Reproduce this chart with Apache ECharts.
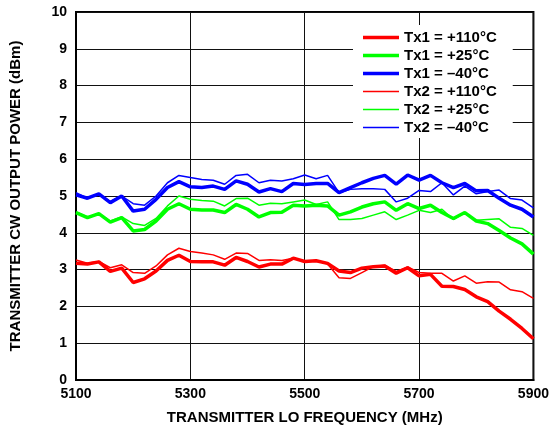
<!DOCTYPE html>
<html>
<head>
<meta charset="UTF-8">
<title>Transmitter CW output power</title>
<script src="https://cdn.jsdelivr.net/npm/echarts@6/dist/echarts.min.js"></script>
</head>
<body style="margin:0;background:#fff;">
<div id="main" style="width:552px;height:431px;"></div>
<script type="text/javascript">
// LO frequency (MHz)
var freqs = [5100, 5120, 5140, 5160, 5180, 5200, 5220, 5240, 5260, 5280,
    5300, 5320, 5340, 5360, 5380, 5400, 5420, 5440, 5460, 5480,
    5500, 5520, 5540, 5560, 5580, 5600, 5620, 5640, 5660, 5680,
    5700, 5720, 5740, 5760, 5780, 5800, 5820, 5840, 5860, 5880, 5900];

// output power (dBm)
var tx1Hot = [3.17, 3.15, 3.21, 2.95, 3.04, 2.65, 2.75, 2.96, 3.25, 3.39,
    3.22, 3.21, 3.21, 3.12, 3.33, 3.22, 3.07, 3.15, 3.15, 3.31,
    3.22, 3.24, 3.17, 2.96, 2.92, 3.04, 3.08, 3.10, 2.90, 3.05,
    2.83, 2.87, 2.55, 2.54, 2.46, 2.26, 2.13, 1.87, 1.65, 1.40, 1.12];
var tx1Room = [4.55, 4.41, 4.52, 4.29, 4.41, 4.05, 4.09, 4.32, 4.64, 4.79,
    4.64, 4.62, 4.62, 4.55, 4.77, 4.64, 4.43, 4.55, 4.56, 4.75,
    4.73, 4.75, 4.73, 4.48, 4.57, 4.70, 4.79, 4.84, 4.61, 4.79,
    4.66, 4.75, 4.55, 4.39, 4.55, 4.32, 4.25, 4.06, 3.86, 3.70, 3.42];
var tx1Cold = [5.03, 4.94, 5.06, 4.82, 5.00, 4.59, 4.64, 4.91, 5.23, 5.39,
    5.25, 5.23, 5.27, 5.18, 5.41, 5.32, 5.11, 5.20, 5.12, 5.34,
    5.31, 5.34, 5.34, 5.09, 5.23, 5.36, 5.48, 5.56, 5.32, 5.57,
    5.43, 5.56, 5.36, 5.23, 5.34, 5.14, 5.15, 4.94, 4.75, 4.64, 4.43];
var tx2Hot = [3.26, 3.17, 3.22, 3.05, 3.13, 2.92, 2.90, 3.10, 3.40, 3.58,
    3.49, 3.45, 3.40, 3.28, 3.45, 3.44, 3.25, 3.27, 3.25, 3.31,
    3.23, 3.25, 3.15, 2.78, 2.76, 2.92, 3.08, 3.12, 2.95, 3.07,
    2.92, 2.90, 2.90, 2.69, 2.83, 2.63, 2.67, 2.66, 2.45, 2.40, 2.22];
var tx2Room = [4.57, 4.43, 4.52, 4.32, 4.43, 4.25, 4.20, 4.39, 4.73, 5.00,
    4.91, 4.88, 4.86, 4.73, 4.93, 4.94, 4.75, 4.80, 4.79, 4.84,
    4.89, 4.77, 4.84, 4.36, 4.36, 4.39, 4.48, 4.57, 4.36, 4.48,
    4.61, 4.55, 4.64, 4.36, 4.55, 4.34, 4.36, 4.38, 4.15, 4.12, 3.93];
var tx2Cold = [5.09, 4.94, 5.06, 4.85, 5.00, 4.79, 4.75, 5.00, 5.36, 5.56,
    5.50, 5.45, 5.43, 5.32, 5.56, 5.59, 5.36, 5.43, 5.41, 5.47,
    5.57, 5.47, 5.56, 5.09, 5.18, 5.20, 5.20, 5.18, 4.84, 4.94,
    5.15, 5.12, 5.36, 5.03, 5.27, 5.06, 5.12, 5.16, 4.93, 4.89, 4.68];

var names = ['Tx1 = +110°C', 'Tx1 = +25°C', 'Tx1 = \u201340°C',
             'Tx2 = +110°C', 'Tx2 = +25°C', 'Tx2 = \u201340°C'];

// legend swatches: flat bars, thick for Tx1 and thin for Tx2
var thickIcon = 'path://M0,0H36V3.5H0Z';
var thinIcon = 'path://M0,0H36V1.5H0Z';

function pairs(ys) {
    var out = [];
    for (var i = 0; i < freqs.length; i++) out.push([freqs[i], ys[i]]);
    return out;
}

function line(name, ys, color, width) {
    return {
        name: name,
        type: 'line',
        data: pairs(ys),
        symbol: 'none',
        lineStyle: { color: color, width: width },
        itemStyle: { color: color },
        emphasis: { disabled: true },
        animation: false
    };
}

var font = 'Liberation Sans, Arial, sans-serif';
var myChart = echarts.init(document.getElementById('main'));

var option = {
    backgroundColor: '#fff',
    textStyle: { fontFamily: font },
    grid: {
        left: 75, right: 16, top: 12, bottom: 51,
        show: true, borderColor: '#000', borderWidth: 2
    },
    legend: {
        orient: 'vertical',
        left: 353, top: 25,
        padding: [5, 16, 3, 10],
        backgroundColor: '#fff',
        itemWidth: 36, itemHeight: 14, itemGap: 3,
        symbolKeepAspect: true,
        data: [
            { name: names[0], icon: thickIcon },
            { name: names[1], icon: thickIcon },
            { name: names[2], icon: thickIcon },
            { name: names[3], icon: thinIcon },
            { name: names[4], icon: thinIcon },
            { name: names[5], icon: thinIcon }
        ],
        textStyle: { fontFamily: font, fontWeight: 'bold', fontSize: 15, color: '#000' }
    },
    xAxis: {
        type: 'value',
        min: 5100, max: 5900, interval: 200,
        name: 'TRANSMITTER LO FREQUENCY (MHz)',
        nameLocation: 'middle', nameGap: 30,
        nameTextStyle: { fontFamily: font, fontWeight: 'bold', fontSize: 15, color: '#000' },
        axisLine: { lineStyle: { color: '#000', width: 2 } },
        axisTick: { show: false },
        axisLabel: {
            margin: 7, fontFamily: font, fontWeight: 'bold', fontSize: 14, color: '#000',
            formatter: function (v) { return String(v); }
        },
        splitLine: { show: true, lineStyle: { color: '#111', width: 1 } }
    },
    yAxis: {
        type: 'value',
        min: 0, max: 10, interval: 1,
        name: 'TRANSMITTER CW OUTPUT POWER (dBm)',
        nameLocation: 'middle', nameGap: 53, nameRotate: 90,
        nameTextStyle: { fontFamily: font, fontWeight: 'bold', fontSize: 15, color: '#000' },
        axisLine: { show: true, lineStyle: { color: '#000', width: 2 } },
        axisTick: { show: false },
        axisLabel: { margin: 9, fontFamily: font, fontWeight: 'bold', fontSize: 14, color: '#000' },
        splitLine: { show: true, lineStyle: { color: '#111', width: 1 } }
    },
    series: [
        line(names[0], tx1Hot, '#ff0000', 3.5),
        line(names[1], tx1Room, '#00ff00', 3.5),
        line(names[2], tx1Cold, '#0000ff', 3.5),
        line(names[3], tx2Hot, '#ff0000', 1.5),
        line(names[4], tx2Room, '#00ff00', 1.5),
        line(names[5], tx2Cold, '#0000ff', 1.5)
    ]
};
myChart.setOption(option);
</script>
</body>
</html>
